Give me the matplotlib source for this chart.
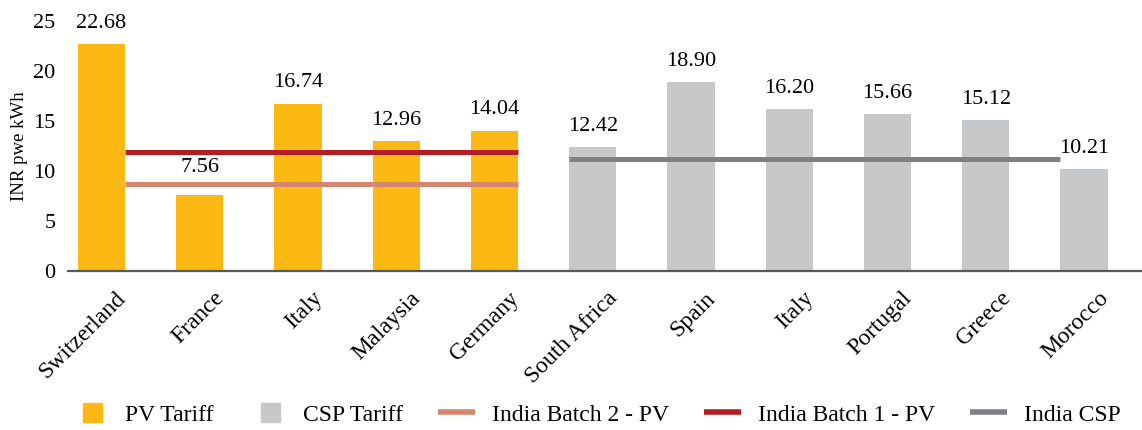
import numpy as np
import matplotlib
matplotlib.use('Agg')
import matplotlib.pyplot as plt
import matplotlib.transforms as mtransforms
from matplotlib.patches import Rectangle, Patch
from matplotlib.lines import Line2D
from matplotlib.legend_handler import HandlerPatch

#-------------------------------------------------------------
# Data
pv_countries = ['Switzerland', 'France', 'Italy', 'Malaysia', 'Germany']
pv_tariff = [22.68, 7.56, 16.74, 12.96, 14.04]
csp_countries = ['South Africa', 'Spain', 'Italy', 'Portugal', 'Greece', 'Morocco']
csp_tariff = [12.42, 18.90, 16.20, 15.66, 15.12, 10.21]
india_batch1_pv = 11.9
india_batch2_pv = 8.75
india_csp = 11.15

#-------------------------------------------------------------
# Style
plt.rcParams['font.family'] = ['Liberation Serif', 'DejaVu Serif']
yellow = '#FDB913'
grey = '#C7C8CA'
red = '#B31E24'
salmon = '#D4866F'
dark_grey = '#808083'
bw = 0.48

fig = plt.figure(figsize=(11.42, 4.30), dpi=100)
ax = fig.add_axes([68 / 1142, 159 / 430, (1142 - 68) / 1142, 250 / 430])

x_pv = np.arange(len(pv_countries))
x_csp = np.arange(len(csp_countries)) + len(pv_countries)

ax.bar(x_pv, pv_tariff, width=bw, color=yellow, zorder=2)
ax.bar(x_csp, csp_tariff, width=bw, color=grey, zorder=2)

# India reference lines
ax.hlines(india_batch1_pv, x_pv[0] + bw / 2, x_pv[-1] + bw / 2, color=red, lw=3.6, zorder=3)
ax.hlines(india_batch2_pv, x_pv[0] + bw / 2, x_pv[-1] + bw / 2, color=salmon, lw=3.6, zorder=3)
ax.hlines(india_csp, x_csp[0] - bw / 2, x_csp[-1] - bw / 2, color=dark_grey, lw=3.6, zorder=3)

# value labels
for xs, vals in [(x_pv, pv_tariff), (x_csp, csp_tariff)]:
    for xi, v in zip(xs, vals):
        off = 13 if v == 7.56 else 8
        ax.annotate(f'{v:.2f}', (xi, v), xytext=(0, off), textcoords='offset points',
                    ha='center', va='bottom', fontsize=16, clip_on=False)

ax.set_xlim(-0.34, 10.59)
ax.set_ylim(0, 25)
ax.set_yticks([0, 5, 10, 15, 20, 25])
ax.tick_params(axis='y', length=0, pad=9, labelsize=16)
ax.set_ylabel('INR pwe kWh', fontsize=13.5, labelpad=4)

ax.set_xticks(np.concatenate([x_pv, x_csp]))
ax.set_xticklabels(pv_countries + csp_countries, fontsize=17)
ax.tick_params(axis='x', length=0, pad=12)
shift = mtransforms.ScaledTranslation(14 / 100, 0, fig.dpi_scale_trans)
for lab in ax.get_xticklabels():
    lab.set_rotation(45)
    lab.set_rotation_mode('anchor')
    lab.set_ha('right')
    lab.set_va('top')
    lab.set_transform(lab.get_transform() + shift)

for s in ['top', 'right', 'left']:
    ax.spines[s].set_visible(False)
ax.spines['bottom'].set_color('#595959')
ax.spines['bottom'].set_linewidth(1.6)
ax.spines['bottom'].set_zorder(4)

#-------------------------------------------------------------
# Legend
def square_patch(legend, orig_handle, xdescent, ydescent, width, height, fontsize):
    size = height * 1.15
    return Rectangle((-xdescent + (width - size) / 2 + 2, -ydescent + (height - size) / 2), size, size)

handles = [Patch(color=yellow), Patch(color=grey),
           Line2D([], [], color=salmon, lw=4, solid_capstyle='butt'),
           Line2D([], [], color=red, lw=4, solid_capstyle='butt'),
           Line2D([], [], color=dark_grey, lw=4, solid_capstyle='butt')]
labels = ['PV Tariff', 'CSP Tariff', 'India Batch 2 - PV', 'India Batch 1 - PV', 'India CSP']
fig.legend(handles, labels, loc='center', bbox_to_anchor=(0.522, 0.035), ncol=5,
           frameon=False, fontsize=17, handlelength=1.57, handletextpad=0.7,
           columnspacing=1.5, handler_map={Patch: HandlerPatch(patch_func=square_patch)})

fig.savefig('out.png', dpi=100)
